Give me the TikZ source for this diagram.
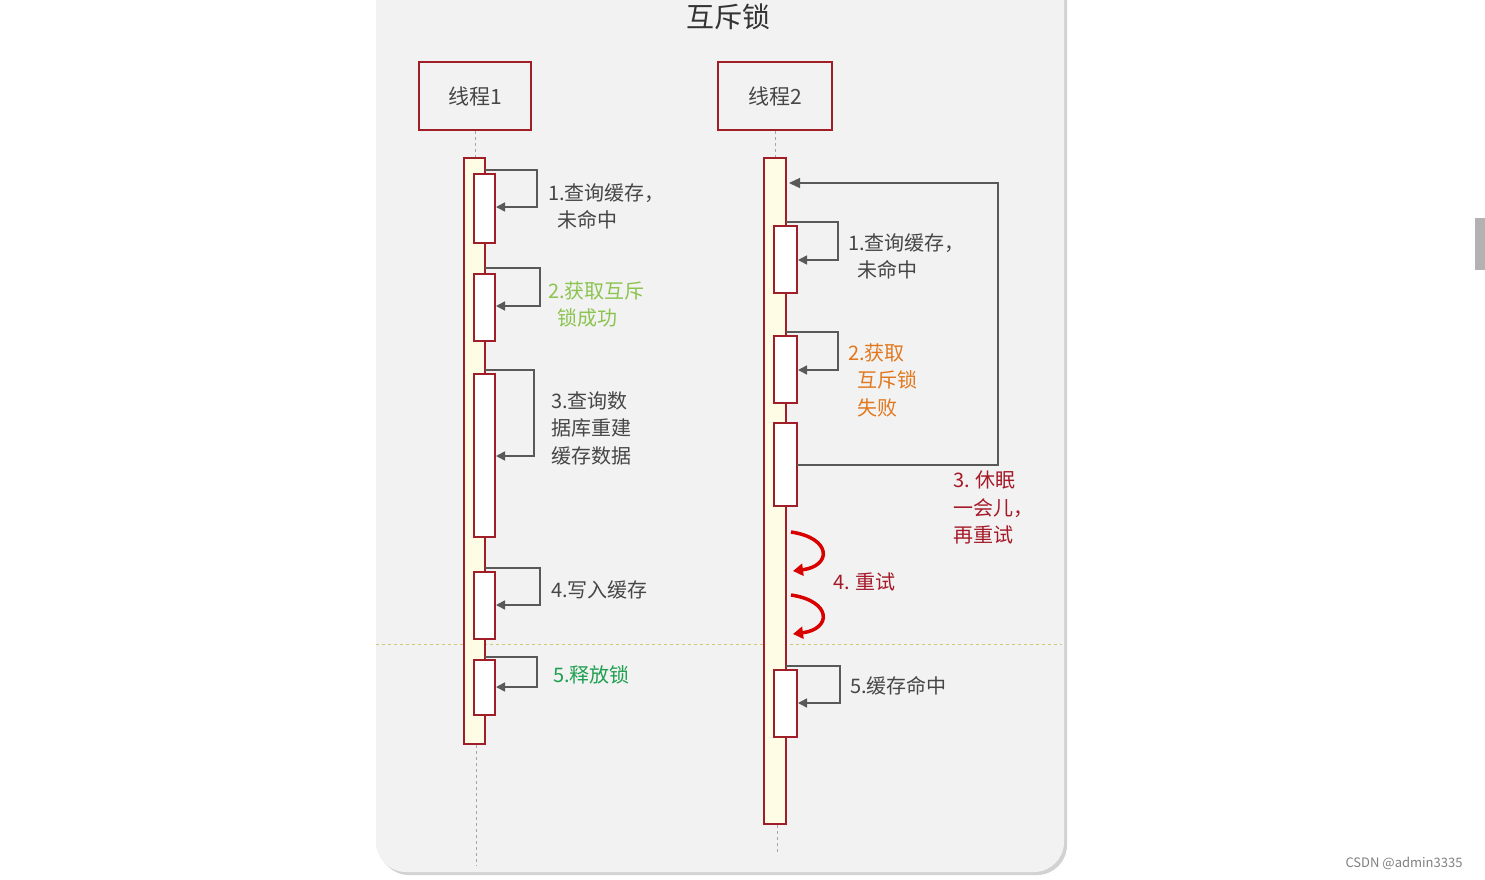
\documentclass[tikz,border=0pt]{standalone}
\usepackage{fontspec}
\setmainfont{Noto Sans CJK SC}
\usetikzlibrary{arrows.meta}
\definecolor{bg}{RGB}{242,242,242}
\definecolor{frame}{RGB}{160,30,40}
\definecolor{cream}{RGB}{255,252,230}
\definecolor{txt}{RGB}{70,70,70}
\definecolor{lgreen}{RGB}{140,196,80}
\definecolor{dgreen}{RGB}{30,160,80}
\definecolor{orng}{RGB}{225,120,30}
\definecolor{dred}{RGB}{165,25,40}
\tikzset{
 x=1pt,y=-1pt,
 head/.style={draw=frame,line width=1.6pt,fill=bg,minimum width=#1,minimum height=68pt,font=\fontsize{21}{21}\selectfont,text=txt},
 bar/.style={draw=frame,line width=1.2pt,fill=cream},
 act/.style={draw=frame,line width=1.2pt,fill=white},
 self/.style={draw=txt!90,line width=1.6pt,-{Triangle[length=9pt,width=9pt]}},
 life/.style={draw=gray!70,dashed,line width=1pt},
 lbl/.style={anchor=north west,align=left,inner sep=0pt,font=\fontsize{20}{27.5}\selectfont,text=txt},
 curl/.style={draw=red!85!black,line width=3.5pt,-{Triangle[length=10pt,width=12pt]}}
}
\begin{document}
\begin{tikzpicture}
\useasboundingbox (0,0) rectangle (1485,879);
\fill[white] (0,0) rectangle (1485,879);
\fill[gray!35] (379,-10) [rounded corners=30pt] -- (379,875) -- (1067,875) [sharp corners] -- (1067,-10) -- cycle;
\fill[bg] (376,-10) [rounded corners=30pt] -- (376,872) -- (1064,872) [sharp corners] -- (1064,-10) -- cycle;
\node[font=\fontsize{28}{28}\selectfont,text=black!80] (title) at (728,17) {互斥锁};
\node[head=112pt] (t1) at (475,96) {线程1};
\node[head=114pt] (t2) at (775,96) {线程2};
% lifelines
\draw[life] (t1.south) -- (475,158);
\draw[life] (476,745) -- (476,866);
\draw[life] (t2.south) -- (775,158);
\draw[life] (777,825) -- (777,852);
% separator
\draw[draw=olive!45,dashed,line width=1pt] (376,644) -- (1062,644);
% thread1
\draw[bar] (464,158) rectangle (485,744);
\foreach \a/\b/\i in {174/243/a,274/341/b,374/537/c,572/639/d,660/715/e}{
  \draw[act] (474,\a) rectangle (495,\b);
  \coordinate (p\i) at (495,\a);
}
\draw[self] (485,170) -- (537,170) -- (537,207) -- (496,207);
\draw[self] (485,268) -- (540,268) -- (540,306) -- (496,306);
\draw[self] (485,370) -- (534,370) -- (534,456) -- (496,456);
\draw[self] (485,568) -- (540,568) -- (540,605) -- (496,605);
\draw[self] (485,657) -- (537,657) -- (537,687) -- (496,687);
\node[lbl] (l1) at (548,183) {1.查询缓存，\\\ \ 未命中};
\node[lbl,text=lgreen] (l2) at (548,281) {2.获取互斥\\\ \ 锁成功};
\node[lbl] (l3) at (551,391) {3.查询数\\据库重建\\缓存数据};
\node[lbl] (l4) at (551,580) {4.写入缓存};
\node[lbl,text=dgreen] (l5) at (553,665) {5.释放锁};
% thread2
\draw[bar] (764,158) rectangle (786,824);
\foreach \a/\b in {226/293,336/403,423/506,670/737}{
  \draw[act] (774,\a) rectangle (797,\b);
}
\draw[self] (786,222) -- (838,222) -- (838,260) -- (798,260);
\draw[self] (786,332) -- (838,332) -- (838,370) -- (798,370);
\draw[self] (786,666) -- (840,666) -- (840,703) -- (798,703);
\draw[draw=txt!90,line width=1.4pt,-{Triangle[length=11pt,width=10pt]}] (797,465) -- (998,465) -- (998,183) -- (789,183);
\node[lbl] (m1) at (848,233) {1.查询缓存，\\\ \ 未命中};
\node[lbl,text=orng] (m2) at (848,343) {2.获取\\\ \ 互斥锁\\\ \ 失败};
\node[lbl,text=dred] (m3) at (953,471) {3. 休眠\\一会儿，\\再重试};
\node[lbl,text=dred] (m4) at (833,573) {4. 重试};
\node[lbl] (m5) at (850,676) {5.缓存命中};
\draw[curl] (791,532) .. controls (832,538) and (832,566) .. (793,571);
\draw[curl] (791,595) .. controls (832,601) and (832,629) .. (793,634);
% scrollbar & watermark
\fill[gray!60] (1475,218) rectangle (1485,270);
\node[font=\fontsize{13}{13}\selectfont,text=gray] (wm) at (1404,863) {CSDN @admin3335};
\end{tikzpicture}
\end{document}
